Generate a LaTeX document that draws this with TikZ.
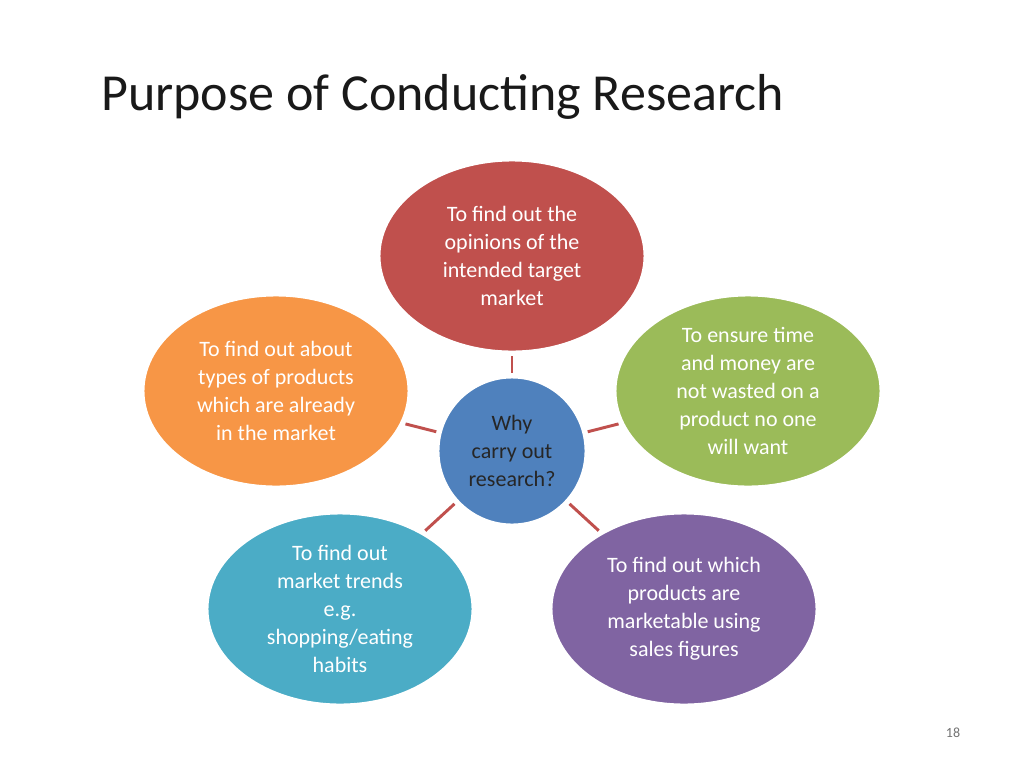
\documentclass[tikz,border=0pt]{standalone}
\usepackage{fontspec}
\setmainfont{Carlito}
\usetikzlibrary{shapes.geometric}
\definecolor{redbox}{RGB}{192,80,77}
\definecolor{orangebox}{RGB}{247,150,70}
\definecolor{greenbox}{RGB}{155,187,89}
\definecolor{aquabox}{RGB}{75,172,198}
\definecolor{purplebox}{RGB}{128,100,162}
\definecolor{bluebox}{RGB}{79,129,189}
\tikzset{
  bubble/.style={ellipse, draw=white, line width=2.2pt, minimum width=199.5pt, minimum height=144pt, inner sep=0pt, text=white, align=center, font=\fontsize{16.5}{21}\selectfont},
  hub/.style={circle, draw=white, line width=2.2pt, fill=bluebox, minimum size=111pt, inner sep=0pt, text=black!85, align=center, font=\fontsize{16.5}{21}\selectfont},
  spoke/.style={draw=redbox, line width=2.2pt, shorten <=2pt, shorten >=2pt}
}
\begin{document}
\begin{tikzpicture}[x=0.75pt,y=0.75pt,yscale=-1,xscale=1]
\useasboundingbox[fill=white] (0,0) rectangle (1024,768);

% Title
\node[anchor=west, inner sep=0pt, font=\fontsize{39}{44}\selectfont, text=black!90] (title) at (101,97) {Purpose of Conducting Research};

% Bubbles
\node[bubble, fill=redbox] (opinions) at (512,256) {To find out the\\opinions of the\\intended target\\market};
\node[bubble, fill=orangebox] (types) at (276,391) {To find out about\\types of products\\which are already\\in the market};
\node[bubble, fill=greenbox] (waste) at (748,391) {To ensure time\\and money are\\not wasted on a\\product no one\\will want};
\node[bubble, fill=aquabox] (trends) at (340,609) {To find out\\market trends\\e.g.\\shopping/eating\\habits};
\node[bubble, fill=purplebox] (sales) at (684,609) {To find out which\\products are\\marketable using\\sales figures};

% Centre
\node[hub] (why) at (512,451) {Why\\carry out\\research?};

% Spokes
\foreach \target in {opinions,types,waste,trends,sales}
  \draw[spoke] (why) -- (\target);

% Slide number
\node[text=black!55, font=\fontsize{10.5}{12}\selectfont] (pagenum) at (953,733) {18};
\end{tikzpicture}
\end{document}
